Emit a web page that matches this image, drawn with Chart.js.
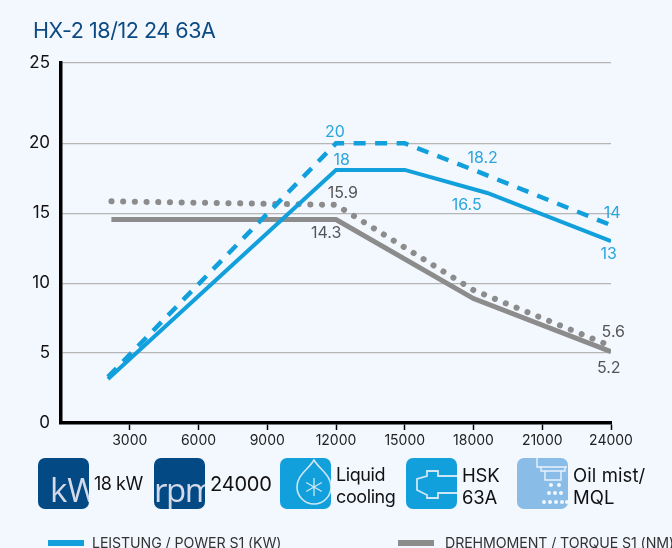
<!DOCTYPE html>
<html>
<head>
<meta charset="utf-8">
<script src="https://cdn.jsdelivr.net/npm/chart.js@4"></script>
<style>
  html, body { margin: 0; padding: 0; background: #f3f7fe; }
  body { position: relative; width: 672px; height: 548px; overflow: hidden; font-family: Inter, sans-serif; color: #111; }
  #title { position: absolute; left: 33px; top: 17px; font-size: 21.5px; color: #0b4a82; letter-spacing: -0.45px; white-space: nowrap; }
  #chart { position: absolute; left: 0; top: 0; }
  .badge { position: absolute; top: 458px; width: 51px; height: 51px; border-radius: 7px; overflow: hidden; }
  .badge span { position: absolute; left: 0; bottom: -3px; font-size: 33px; font-weight: 500; color: #d5daea; white-space: nowrap; font-family: "Open Sans", sans-serif; }
  .badge svg { position: absolute; left: 0; top: 0; }
  .lbl { position: absolute; font-size: 18px; line-height: 22px; letter-spacing: -0.2px; white-space: nowrap; }
  .key { position: absolute; top: 540px; width: 36px; height: 6px; }
  .keytxt { position: absolute; top: 534px; font-size: 14.2px; color: #333; letter-spacing: -0.1px; white-space: nowrap; }
</style>
</head>
<body>
<canvas id="chart" width="672" height="548"></canvas>
<div id="title">HX-2 18/12 24 63A</div>

<div class="badge" style="left:38px;background:#034a84"><span style="left:12px">kW</span></div>
<div class="lbl" style="left:94px;top:473px;letter-spacing:-0.5px">18 kW</div>
<div class="badge" style="left:154px;background:#034a84"><span style="letter-spacing:-1.5px">rpm</span></div>
<div class="lbl" style="left:210px;top:473px;font-size:20px">24000</div>
<div class="badge" style="left:280px;background:#12a0dc">
  <svg width="51" height="51" fill="none" stroke="#cfe6f5" stroke-width="1.6">
    <path d="M34 2 C28 12 17 17 17 29 A17 17 0 0 0 51 29 C51 17 40 12 34 2 Z"/>
    <path d="M34 20 V38 M26.200 24.500 L41.800 33.500 M41.800 24.500 L26.200 33.500" stroke-width="1.3"/>
  </svg>
</div>
<div class="lbl" style="left:336px;top:464px;letter-spacing:-0.4px">Liquid<br>cooling</div>
<div class="badge" style="left:406px;background:#12a0dc">
  <svg width="51" height="51" fill="none" stroke="#cfe6f5" stroke-width="1.8">
    <path d="M51 18 H32 V13 H21 V18 L11 21 V32 L21 37 V40 H32 V35 H51"/>
  </svg>
</div>
<div class="lbl" style="left:462px;top:464px;font-size:18.5px">HSK<br>63A</div>
<div class="badge" style="left:517px;background:#8abce8">
  <svg width="51" height="51" fill="none" stroke="#e8f2fb" stroke-width="1.4">
    <path d="M20 0 V9 H50 M24 9 V13 H48 V9 M28 13 V22 H44 V13"/>
    <g fill="#f2f8fd" stroke="none">
      <circle cx="34" cy="27" r="2"/><circle cx="42" cy="27" r="2"/>
      <circle cx="32" cy="35" r="2"/><circle cx="38" cy="35" r="2"/><circle cx="44" cy="35" r="2"/>
      <circle cx="27" cy="44" r="2"/><circle cx="33" cy="44" r="2"/><circle cx="39" cy="44" r="2"/><circle cx="45" cy="44" r="2"/><circle cx="50" cy="44" r="2"/>
    </g>
  </svg>
</div>
<div class="lbl" style="left:573px;top:464px;font-size:18.5px;letter-spacing:0.1px">Oil mist/<br>MQL</div>

<div class="key" style="left:48px;background:#12a0dc"></div>
<div class="keytxt" style="left:92px">LEISTUNG / POWER S1 (KW)</div>
<div class="key" style="left:398px;background:#8c8c8c"></div>
<div class="keytxt" style="left:445px">DREHMOMENT / TORQUE S1 (NM)</div>

<script>
const xTicks = [3000, 6000, 9000, 12000, 15000, 18000, 21000, 24000];
const yTicks = [0, 5, 10, 15, 20, 25];

const powerS1X = [2050, 12000, 15000, 18600, 24000];
const powerS1 = [3.15, 18.1, 18.1, 16.45, 13];
const powerS6X = [2050, 12000, 15000, 18000, 24000];
const powerS6 = [3.3, 20, 20, 18.1, 14.15];
const torqueS1X = [2200, 12000, 18000, 24000];
const torqueS1 = [14.55, 14.55, 8.9, 5.1];
const torqueS6X = [2200, 12000, 18000, 24000];
const torqueS6 = [15.85, 15.6, 9.5, 5.5];

const pointLabels = [
  { text: "20", x: 11950, y: 20.7, color: "#2aa5de" },
  { text: "18", x: 12250, y: 18.8, color: "#2aa5de" },
  { text: "18.2", x: 18400, y: 18.95, color: "#2aa5de" },
  { text: "16.5", x: 17700, y: 15.6, color: "#2aa5de" },
  { text: "14", x: 24050, y: 15.0, color: "#2aa5de" },
  { text: "13", x: 23900, y: 12.1, color: "#2aa5de" },
  { text: "15.9", x: 12300, y: 16.4, color: "#555" },
  { text: "14.3", x: 11570, y: 13.55, color: "#555" },
  { text: "5.6", x: 24100, y: 6.5, color: "#555" },
  { text: "5.2", x: 23900, y: 3.95, color: "#555" }
];

// the drawn axis gives 20-25 more room than the other steps
class PaperScale extends Chart.LinearScale {
  getPixelForValue(value) {
    const bottom = this.bottom, top = this.top;
    const kneePx = bottom - (bottom - top) * 278.5 / 358.5;
    if (value <= 20) return bottom - (bottom - kneePx) * value / 20;
    return kneePx - (kneePx - top) * (value - 20) / 5;
  }
}
PaperScale.id = "paper";
PaperScale.defaults = Chart.LinearScale.defaults;
Chart.register(PaperScale);

const pointLabelPlugin = {
  id: "pointLabels",
  afterDatasetsDraw(chart) {
    const { ctx, scales } = chart;
    ctx.save();
    ctx.font = "16px Inter, sans-serif";
    ctx.textAlign = "center";
    ctx.textBaseline = "middle";
    pointLabels.forEach(l => {
      ctx.fillStyle = l.color;
      ctx.fillText(l.text, scales.x.getPixelForValue(l.x), scales.y.getPixelForValue(l.y));
    });
    ctx.restore();
  }
};

const zip = (xs, ys) => xs.map((x, i) => ({ x, y: ys[i] }));

new Chart(document.getElementById("chart"), {
  type: "line",
  data: {
    datasets: [
      { data: zip(powerS1X, powerS1), borderColor: "#12a0dc", borderWidth: 4 },
      { data: zip(powerS6X, powerS6), borderColor: "#12a0dc", borderWidth: 4.5, borderDash: [12, 9.5] },
      { data: zip(torqueS1X, torqueS1), borderColor: "#8c8c8c", borderWidth: 5 },
      { data: zip(torqueS6X, torqueS6), borderColor: "#8c8c8c", borderWidth: 6, borderDash: [0.1, 11.6], borderCapStyle: "round" }
    ]
  },
  options: {
    responsive: false,
    animation: false,
    layout: { padding: { top: 63, left: 0, right: 61, bottom: 0 } },
    elements: { point: { radius: 0 }, line: { tension: 0 } },
    plugins: { legend: { display: false }, tooltip: { enabled: false } },
    scales: {
      x: {
        type: "linear",
        min: 0,
        max: 24000,
        afterBuildTicks: axis => { axis.ticks = xTicks.map(value => ({ value })); },
        afterFit: axis => { axis.height = 125; },
        grid: { drawOnChartArea: false, tickColor: "#000", tickLength: 7, tickWidth: 1.5 },
        border: { color: "#000", width: 3.5 },
        ticks: { color: "#222", font: { family: "Inter", size: 14 }, padding: 2, maxRotation: 0, autoSkip: false, callback: v => String(v) }
      },
      y: {
        type: "paper",
        min: 0,
        max: 25,
        afterBuildTicks: axis => { axis.ticks = yTicks.map(value => ({ value })); },
        afterFit: axis => { axis.width = 61; },
        grid: { color: c => (c.tick && c.tick.value === 0 ? "rgba(0,0,0,0)" : "#b5b5b5"), drawTicks: false, lineWidth: 1.2 },
        border: { color: "#000", width: 3.5 },
        ticks: { color: "#111", font: { family: "Inter", size: 17 }, padding: 11 }
      }
    }
  },
  plugins: [pointLabelPlugin]
});
</script>
</body>
</html>
